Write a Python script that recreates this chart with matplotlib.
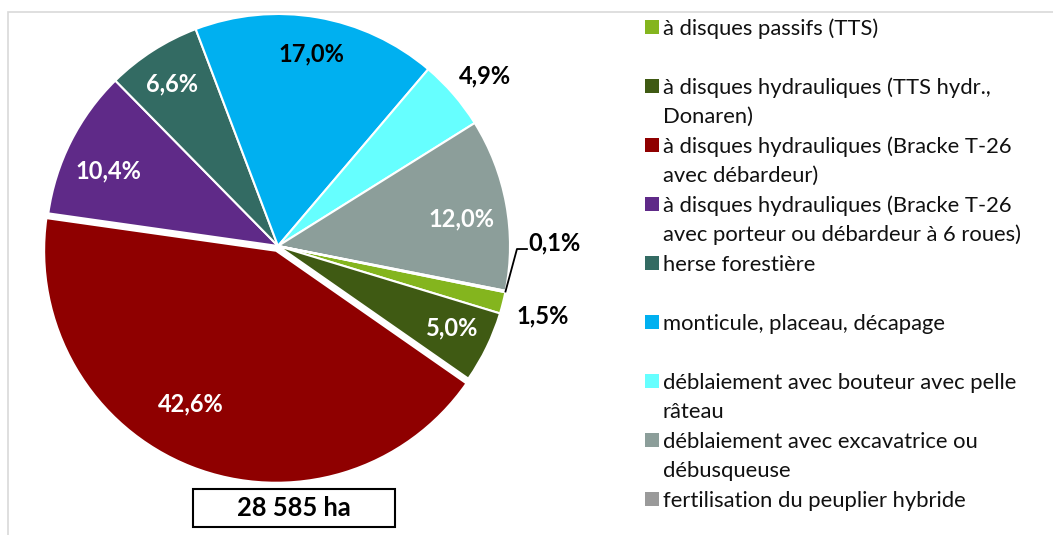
import numpy as np
import matplotlib
matplotlib.use('Agg')
import matplotlib.pyplot as plt
from matplotlib.patches import Rectangle

plt.rcParams['font.family'] = ['Lato', 'DejaVu Sans']

# data
legend_labels = [
    'à disques passifs (TTS)',
    'à disques hydrauliques (TTS hydr.,\nDonaren)',
    'à disques hydrauliques (Bracke T-26\navec débardeur)',
    'à disques hydrauliques (Bracke T-26\navec porteur ou débardeur à 6 roues)',
    'herse forestière',
    'monticule, placeau, décapage',
    'déblaiement avec bouteur avec pelle\nrâteau',
    'déblaiement avec excavatrice ou\ndébusqueuse',
    'fertilisation du peuplier hybride',
]
shares = [1.5, 5.0, 42.6, 10.4, 6.6, 17.0, 4.9, 12.0, 0.1]
pct_labels = ['1,5%', '5,0%', '42,6%', '10,4%', '6,6%', '17,0%', '4,9%', '12,0%', '0,1%']
total_label = '28 585 ha'

colors = ['#84B51E', '#3F5A13', '#8F0000', '#5F2A88', '#336B63',
          '#00B0F0', '#66FFFF', '#8C9E9A', '#9A9A9A']
label_colors = ['black', 'white', 'white', 'white', 'white',
                'black', 'black', 'white', 'black']
label_r = [1.18, 0.83, 0.757, 0.80, 0.834, 0.838, 1.155, 0.80, 1.2]
label_dang = [-0.6, 0.7, -7.6, 3.0, 0.5, 0.0, -1.3, -2.1, 0.0]
explode = [0, 0, 0.022, 0, 0, 0, 0, 0, 0]

W, H = 1053, 535
fig = plt.figure(figsize=(W / 100, H / 100), dpi=100)

# chart frame (only top and left visible)
fig.add_artist(Rectangle((8 / W, -0.1), 1.2, 1.1 - 12 / H, transform=fig.transFigure,
                         fill=False, edgecolor='#D9D9D9', linewidth=1.2))

cx, cy, R = 278, 246, 232
half = 290
ax = fig.add_axes([(cx - half) / W, (H - cy - half) / H, 2 * half / W, 2 * half / H])

wedges, _ = ax.pie(shares, colors=colors, startangle=-11.5, counterclock=False,
                   explode=explode, radius=1,
                   wedgeprops=dict(edgecolor='white', linewidth=1.5))
ax.set_xlim(-half / R, half / R)
ax.set_ylim(-half / R, half / R)
ax.axis('off')

for i, w in enumerate(wedges):
    mid = np.deg2rad((w.theta1 + w.theta2) / 2 + label_dang[i])
    x = w.center[0] + label_r[i] * np.cos(mid)
    y = w.center[1] + label_r[i] * np.sin(mid)
    if pct_labels[i] == '0,1%':
        edge = np.deg2rad((w.theta1 + w.theta2) / 2)
        x0, y0 = np.cos(edge), np.sin(edge)
        ly = -0.013
        ax.plot([x0, 1.03, 1.073], [y0, ly, ly], color='black', lw=1.3, clip_on=False)
        ax.text(1.08, ly + 0.028, pct_labels[i], ha='left', va='center',
                fontsize=17, fontweight='bold', color=label_colors[i])
    else:
        ax.text(x, y, pct_labels[i], ha='center', va='center',
                fontsize=17, fontweight='bold', color=label_colors[i])

# total box
fig.text(294 / W, 1 - 508 / H, total_label, ha='center', va='center',
         fontsize=18.4, fontweight='bold')
fig.add_artist(Rectangle((193 / W, 1 - 527 / H), 202 / W, 38 / H, transform=fig.transFigure,
                         fill=False, edgecolor='black', linewidth=1.5))

# legend
for i, lab in enumerate(legend_labels):
    y0 = 27 + 59 * i
    fig.add_artist(Rectangle((645 / W, 1 - (y0 + 7) / H), 14 / W, 14 / H,
                             transform=fig.transFigure, facecolor=colors[i],
                             edgecolor='none'))
    for j, line in enumerate(lab.split('\n')):
        fig.text(663 / W, 1 - (y0 + 29 * j) / H, line, ha='left',
                 va='center_baseline', fontsize=15.8, color='#111111')

fig.savefig('out.png', dpi=100)
